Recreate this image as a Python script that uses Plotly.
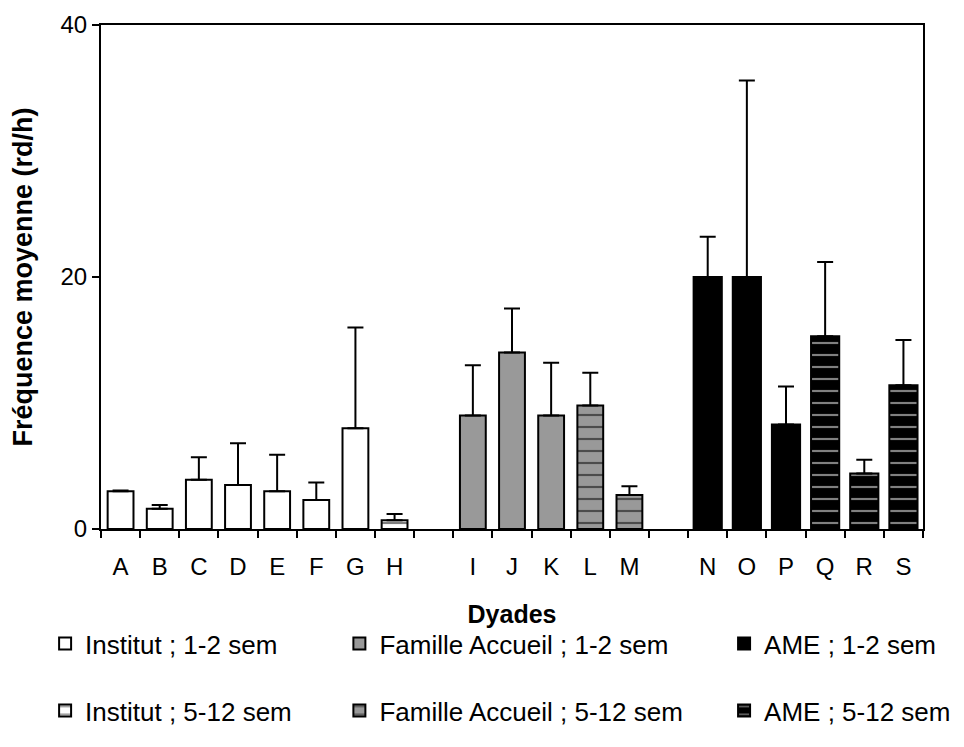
import plotly.graph_objects as go

# Slot layout: A-H, gap, I-M, gap, N-S
slot_labels = ["A", "B", "C", "D", "E", "F", "G", "H", "", "I", "J", "K", "L", "M", "", "N", "O", "P", "Q", "R", "S"]

inst12_cat = ["A", "B", "C", "D", "E", "F", "G"]
inst12_val = [3.0, 1.6, 3.9, 3.5, 3.0, 2.3, 8.0]
inst12_err = [0.05, 0.3, 1.8, 3.3, 2.9, 1.4, 8.0]

inst512_cat = ["H"]
inst512_val = [0.7]
inst512_err = [0.5]

fam12_cat = ["I", "J", "K"]
fam12_val = [9.0, 14.0, 9.0]
fam12_err = [4.0, 3.5, 4.2]

fam512_cat = ["L", "M"]
fam512_val = [9.8, 2.7]
fam512_err = [2.6, 0.7]

ame12_cat = ["N", "O", "P"]
ame12_val = [20.0, 20.0, 8.3]
ame12_err = [3.2, 15.6, 3.0]

ame512_cat = ["Q", "R", "S"]
ame512_val = [15.3, 4.4, 11.4]
ame512_err = [5.9, 1.1, 3.6]

FONT = "Liberation Sans, Arial, sans-serif"

def pos(cats):
    return [slot_labels.index(c) for c in cats]

fig = go.Figure()

def add(name, cats, vals, errs, color, patfg, legend, group, patterned, width):
    marker = dict(color=color, line=dict(color="black", width=2))
    if patterned:
        marker["pattern"] = dict(shape="-", fgcolor=patfg, bgcolor=color, size=12, solidity=0.18, fillmode="overlay")
    fig.add_trace(go.Bar(
        x=pos(cats), y=vals, name=name, width=width,
        marker=marker,
        error_y=dict(type="data", array=errs, arrayminus=[0] * len(errs), symmetric=False,
                     color="black", thickness=2, width=8),
        legend=legend, legendgroup=group,
    ))

add("Institut ; 1-2 sem", inst12_cat, inst12_val, inst12_err, "white", "black", "legend", "g1", False, 0.66)
add("Institut ; 5-12 sem", inst512_cat, inst512_val, inst512_err, "white", "black", "legend", "g2", True, 0.66)
add("Famille Accueil ; 1-2 sem", fam12_cat, fam12_val, fam12_err, "#999999", "black", "legend2", "g3", False, 0.66)
add("Famille Accueil ; 5-12 sem", fam512_cat, fam512_val, fam512_err, "#999999", "black", "legend2", "g4", True, 0.66)
add("AME ; 1-2 sem", ame12_cat, ame12_val, ame12_err, "black", "white", "legend3", "g5", False, 0.72)
add("AME ; 5-12 sem", ame512_cat, ame512_val, ame512_err, "black", "white", "legend3", "g6", True, 0.72)

legend_common = dict(font=dict(family=FONT, size=26, color="black"), tracegroupgap=30,
                     yanchor="top", xanchor="left", bgcolor="rgba(0,0,0,0)", itemwidth=30,
                     traceorder="grouped")

fig.update_layout(
    width=956, height=731,
    margin=dict(l=93, r=41, t=17, b=210, autoexpand=False),
    plot_bgcolor="white", paper_bgcolor="white",
    barmode="overlay",
    font=dict(family=FONT, size=24, color="black"),
    showlegend=True,
    legend=dict(x=-0.068, y=-0.181, **legend_common),
    legend2=dict(x=0.29, y=-0.181, **legend_common),
    legend3=dict(x=0.758, y=-0.181, **legend_common),
    xaxis=dict(
        range=[-0.5, 20.5],
        tickmode="array", tickvals=list(range(len(slot_labels))), ticktext=slot_labels,
        ticks="", showgrid=False, zeroline=False,
        showline=True, linecolor="black", linewidth=2, mirror=True,
        ticklabelstandoff=15,
        tickfont=dict(size=24),
        minor=dict(tickvals=[i - 0.5 for i in range(len(slot_labels) + 1)], ticks="outside",
                   ticklen=7, tickwidth=2, tickcolor="black", showgrid=False),
        title=dict(text="<b>Dyades</b>", font=dict(size=25), standoff=27),
    ),
    yaxis=dict(
        range=[0, 40], tickvals=[0, 20, 40],
        ticks="outside", ticklen=7, tickwidth=2, tickcolor="black",
        showgrid=False, zeroline=False,
        showline=True, linecolor="black", linewidth=2, mirror=True,
        tickfont=dict(size=24),
        title=dict(text="<b>Fréquence moyenne (rd/h)</b>", font=dict(size=27), standoff=24),
    ),
)

fig.write_html("out.html")
